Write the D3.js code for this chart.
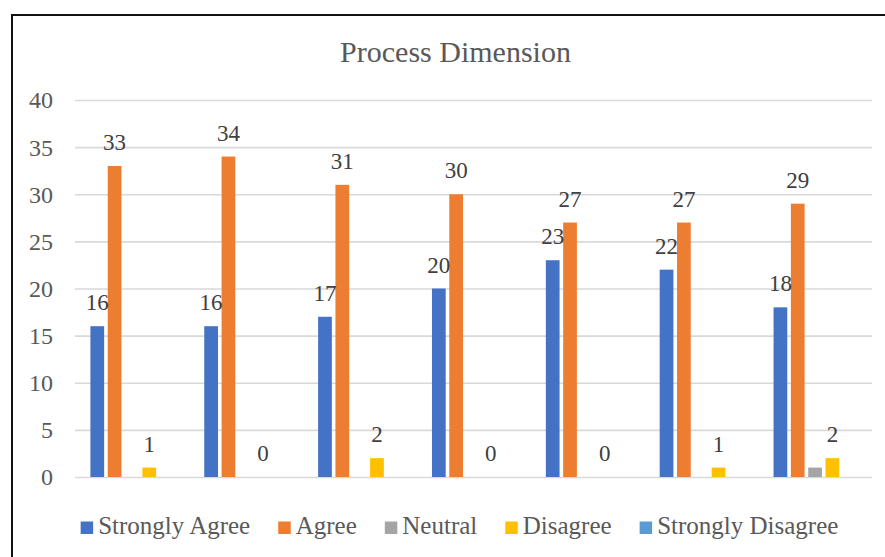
<!DOCTYPE html>
<html>
<head>
<meta charset="utf-8">
<script src="https://cdn.jsdelivr.net/npm/d3@7/dist/d3.min.js"></script>
<style>
  html, body { margin: 0; padding: 0; background: #ffffff; }
  svg { display: block; }
</style>
</head>
<body>
<svg id="chart" width="885" height="557"></svg>
<script>
// Survey items (seven statements, one cluster each)
const categories = ["P1", "P2", "P3", "P4", "P5", "P6", "P7"];

// Response counts per answer option
const stronglyAgree    = [16, 16, 17, 20, 23, 22, 18];
const agree            = [33, 34, 31, 30, 27, 27, 29];
const neutral          = [0, 0, 0, 0, 0, 0, 1];
const disagree         = [1, 0, 2, 0, 0, 1, 2];
const stronglyDisagree = [0, 0, 0, 0, 0, 0, 0];

const seriesNames  = ["Strongly Agree", "Agree", "Neutral", "Disagree", "Strongly Disagree"];
const seriesColors = ["#4472C4", "#ED7D31", "#A5A5A5", "#FFC000", "#5B9BD5"];
const labelledSeries = ["Strongly Agree", "Agree", "Disagree"];

const yTicks = [0, 5, 10, 15, 20, 25, 30, 35, 40];
const chartTitle = "Process Dimension";

const seriesValues = [stronglyAgree, agree, neutral, disagree, stronglyDisagree];
const series = seriesNames.map((name, i) => ({
  name, color: seriesColors[i], values: seriesValues[i]
}));

const svg = d3.select("#chart");
const font = "'Liberation Serif', 'Times New Roman', serif";
const textGray = "#595959";

// Outer frame
svg.append("rect")
  .attr("x", 12).attr("y", 15)
  .attr("width", 900).attr("height", 600)
  .attr("fill", "none")
  .attr("stroke", "#111")
  .attr("stroke-width", 2);

const plot = { left: 75, right: 872, top: 100, bottom: 477 };

const y = d3.scaleLinear().domain([0, 40]).range([plot.bottom, plot.top]);
const x0 = d3.scaleBand().domain(categories).range([plot.left, plot.right]).padding(0);
const groupPad = 15.4;
const x1 = d3.scaleBand().domain(seriesNames)
  .range([groupPad, x0.bandwidth() - groupPad])
  .paddingInner(0.208).paddingOuter(0);

// Title
svg.append("text")
  .attr("x", 455.5).attr("y", 61.5)
  .attr("text-anchor", "middle")
  .attr("font-family", font)
  .attr("font-size", 30)
  .attr("fill", textGray)
  .text(chartTitle);

// Gridlines and y axis
const yAxis = d3.axisLeft(y)
  .tickValues(yTicks)
  .tickSize(-(plot.right - plot.left))
  .tickPadding(22);

const gAxis = svg.append("g")
  .attr("transform", `translate(${plot.left},0)`)
  .call(yAxis);
gAxis.select(".domain").remove();
gAxis.selectAll(".tick line")
  .attr("stroke", "#d9d9d9")
  .attr("stroke-width", 1.6);
gAxis.selectAll(".tick text")
  .attr("font-family", font)
  .attr("font-size", 24)
  .attr("fill", textGray)
  .attr("dy", "0.33em");

// Bars
const groups = svg.append("g").selectAll("g")
  .data(categories)
  .join("g")
  .attr("transform", d => `translate(${x0(d)},0)`);

groups.selectAll("rect")
  .data((c, ci) => series.map(s => ({ name: s.name, color: s.color, value: s.values[ci] })))
  .join("rect")
  .attr("x", d => x1(d.name))
  .attr("y", d => y(d.value))
  .attr("width", x1.bandwidth())
  .attr("height", d => y(0) - y(d.value))
  .attr("fill", d => d.color);

// Value labels
groups.selectAll("text.value")
  .data((c, ci) => series
    .filter(s => labelledSeries.includes(s.name))
    .map(s => ({ name: s.name, value: s.values[ci] })))
  .join("text")
  .attr("class", "value")
  .attr("x", d => x1(d.name) + x1.bandwidth() / 2)
  .attr("y", d => y(d.value) - 16)
  .attr("text-anchor", "middle")
  .attr("font-family", font)
  .attr("font-size", 23)
  .attr("fill", "#404040")
  .text(d => d.value);

// Legend
const legend = svg.append("g");
const items = legend.selectAll("g")
  .data(series)
  .join("g");
const marker = 12.5;
const itemGap = 28;
items.append("rect")
  .attr("width", marker).attr("height", marker)
  .attr("y", 521.5)
  .attr("fill", d => d.color);
items.append("text")
  .attr("x", marker + 5)
  .attr("y", 534)
  .attr("font-family", font)
  .attr("font-size", 25)
  .attr("fill", textGray)
  .text(d => d.name);

let cursor = 0;
const offsets = [];
items.each(function () {
  const w = marker + 5 + d3.select(this).select("text").node().getComputedTextLength();
  offsets.push(cursor);
  cursor += w + itemGap;
});
const total = cursor - itemGap;
const startX = 459.5 - total / 2;
items.attr("transform", (d, i) => `translate(${startX + offsets[i]},0)`);
</script>
</body>
</html>
